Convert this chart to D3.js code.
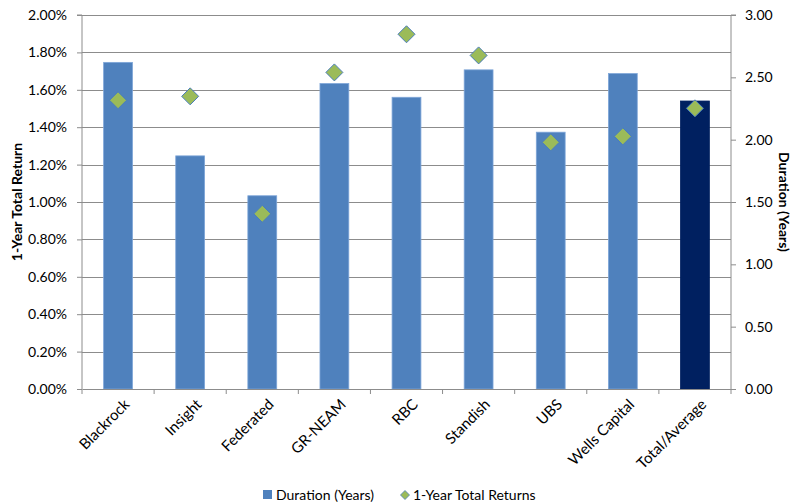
<!DOCTYPE html>
<html><head><meta charset="utf-8">
<script src="https://cdn.jsdelivr.net/npm/d3@7"></script>
<style>
body{margin:0;background:#fff;}
text{font-family:Lato,"Open Sans",sans-serif;}
</style></head>
<body><svg id="c" width="794" height="504"></svg>
<script>
const categories = ["Blackrock","Insight","Federated","GR-NEAM","RBC","Standish","UBS","Wells Capital","Total/Average"];
const duration = [2.62,1.87,1.55,2.45,2.34,2.56,2.06,2.53,2.31];
const returns = [1.544,1.565,0.937,1.693,1.897,1.784,1.319,1.351,1.501];
const leftTicks = [0,0.2,0.4,0.6,0.8,1.0,1.2,1.4,1.6,1.8,2.0];
const rightTicks = [0,0.5,1.0,1.5,2.0,2.5,3.0];

const svg = d3.select("#c");
const L=82, R=731, T=15, B=389;
const FS = "14px";
const x = d3.scaleBand().domain(categories).range([L,R]).paddingInner(0.6).paddingOuter(0.3);
const band = d3.scaleBand().domain(categories).range([L,R]);
const yL = d3.scaleLinear().domain([0,2]).range([B,T]);
const yR = d3.scaleLinear().domain([0,3]).range([B,T]);

// gridlines
svg.append("g").selectAll("line").data(leftTicks.slice(1)).join("line")
  .attr("x1",L).attr("x2",R).attr("y1",d=>Math.round(yL(d))+0.5).attr("y2",d=>Math.round(yL(d))+0.5)
  .attr("stroke","#8c8c8c").attr("stroke-width",1);

// bars
svg.append("g").selectAll("rect").data(categories).join("rect")
  .attr("x",d=>x(d)).attr("width",x.bandwidth())
  .attr("y",(d,i)=>yR(duration[i])).attr("height",(d,i)=>B-yR(duration[i]))
  .attr("fill",(d,i)=>i===categories.length-1?"#002060":"#4f81bd")
  .attr("stroke",(d,i)=>i===categories.length-1?"#002060":"#7ea6d8").attr("stroke-width",0.8);

// left axis
const gl = svg.append("g").attr("transform",`translate(${L},0)`)
  .call(d3.axisLeft(yL).tickValues(leftTicks).tickFormat(d=>d.toFixed(2)+"%").tickSize(5).tickPadding(10));
// right axis
const gr = svg.append("g").attr("transform",`translate(${R},0)`)
  .call(d3.axisRight(yR).tickValues(rightTicks).tickFormat(d=>d.toFixed(2)).tickSize(5).tickPadding(9));
// bottom axis
const gb = svg.append("g").attr("transform",`translate(0,${B})`)
  .call(d3.axisBottom(band).tickSize(0).tickFormat(""));
gb.selectAll(".tick").remove();
gb.selectAll("line.sep").data(categories.concat(["end"])).join("line").attr("class","sep")
  .attr("x1",(d,i)=>L+i*band.bandwidth()).attr("x2",(d,i)=>L+i*band.bandwidth())
  .attr("y1",0).attr("y2",5).attr("stroke","#8c8c8c");
[gl,gr,gb].forEach(g=>{
  g.selectAll(".domain").attr("stroke","#8c8c8c");
  g.selectAll(".tick line").attr("stroke","#8c8c8c");
  g.selectAll("text").attr("font-size",FS).attr("fill","#000").attr("font-family","Lato");
});
gl.select(".domain").attr("d",`M-5,${T}H0V${B}H0`);
gr.select(".domain").attr("d",`M5,${T}H0V${B}`);

// category labels
svg.append("g").selectAll("text").data(categories).join("text")
  .attr("transform",d=>`translate(${band(d)+band.bandwidth()/2+5},${B+9}) rotate(-45)`)
  .attr("text-anchor","end").attr("dy","0.7em").attr("font-size","15px").text(d=>d);

// diamonds
const ds = 8.5;
svg.append("g").selectAll("path").data(categories).join("path")
  .attr("d",(d,i)=>{const cx=x(d)+x.bandwidth()/2, cy=yL(returns[i]);
     return `M${cx},${cy-ds}L${cx+ds},${cy}L${cx},${cy+ds}L${cx-ds},${cy}Z`;})
  .attr("fill","#9bbb59").attr("stroke","#4a7ebb").attr("stroke-width",1);

// axis titles
svg.append("text").attr("transform",`translate(22,${(T+B)/2}) rotate(-90)`)
  .attr("text-anchor","middle").attr("font-size",FS).attr("font-weight","bold").text("1-Year Total Return");
svg.append("text").attr("transform",`translate(779,${(T+B)/2}) rotate(90)`)
  .attr("text-anchor","middle").attr("font-size",FS).attr("font-weight","bold").text("Duration (Years)");

// legend
const lg = svg.append("g").attr("transform","translate(0,495)");
lg.append("rect").attr("x",263).attr("y",-5).attr("width",9).attr("height",9).attr("fill","#4f81bd");
lg.append("text").attr("x",276).attr("y",0).attr("dy","0.35em").attr("font-size",FS).text("Duration (Years)");
lg.append("path").attr("d","M405,-4.5L409.5,0L405,4.5L400.5,0Z").attr("fill","#9bbb59").attr("stroke","#4a7ebb").attr("stroke-width",0.8);
lg.append("text").attr("x",413).attr("y",0).attr("dy","0.35em").attr("font-size",FS).text("1-Year Total Returns");
</script></body></html>
